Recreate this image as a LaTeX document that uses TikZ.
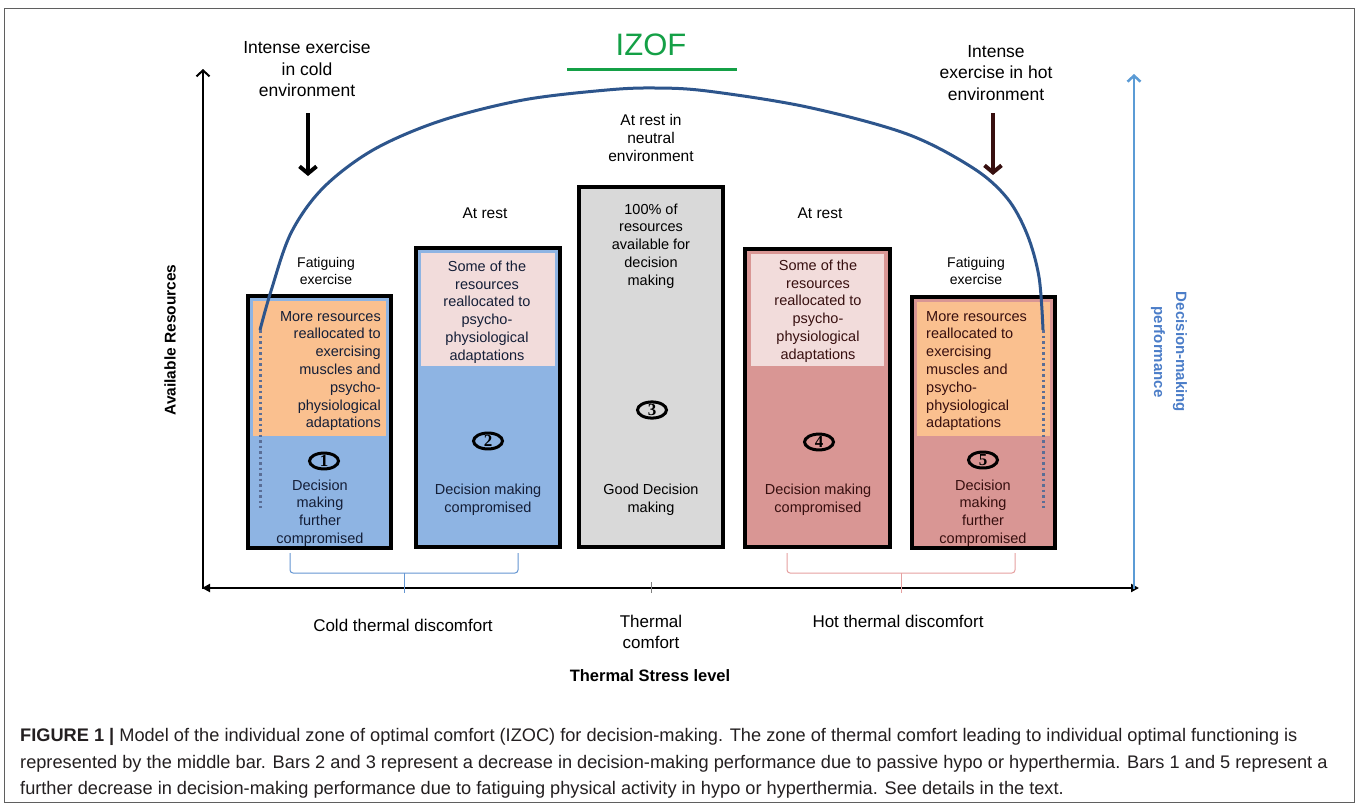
\documentclass[tikz,border=0pt]{standalone}
\usepackage{fontspec}
\setmainfont{Liberation Sans}
\newfontfamily\digitfont{Liberation Serif}
\usetikzlibrary{arrows.meta,shapes.geometric}
\definecolor{cblue}{RGB}{142,180,227}
\definecolor{corange}{RGB}{250,192,143}
\definecolor{cpink}{RGB}{242,220,219}
\definecolor{cred}{RGB}{217,150,148}
\definecolor{cgrey}{RGB}{217,217,217}
\definecolor{curve}{RGB}{45,85,140}
\definecolor{dotc}{RGB}{90,110,150}
\definecolor{izof}{RGB}{20,160,70}
\definecolor{axblue}{RGB}{91,155,213}
\definecolor{perfblue}{RGB}{75,125,200}
\definecolor{bluetxt}{RGB}{20,30,55}
\definecolor{redtxt}{RGB}{55,15,15}
\definecolor{captxt}{RGB}{35,31,32}
\definecolor{framec}{RGB}{95,95,95}
\definecolor{bracepink}{RGB}{230,160,160}
\definecolor{braceblue}{RGB}{100,150,210}
\tikzset{
  barline/.style={draw=black, line width=3.5pt},
  boxtxt/.style={inner sep=0pt, font=\fontsize{14.5}{17.8}\selectfont},
  toptxt/.style={inner sep=0pt, align=center, font=\fontsize{17.5}{21.5}\selectfont},
  labtxt/.style={inner sep=0pt, align=center, font=\fontsize{15.5}{17.8}\selectfont},
  smalltxt/.style={inner sep=0pt, align=center, font=\fontsize{14}{17.7}\selectfont},
  bottxt/.style={inner sep=0pt, align=center, font=\fontsize{17}{21}\selectfont},
  numell/.style={draw=black, ellipse, line width=3pt, minimum width=29pt, minimum height=15pt, inner sep=0pt, font=\digitfont\bfseries\fontsize{17}{17}\selectfont},
  captline/.style={anchor=west, inner sep=0pt, text=captxt, font=\fontsize{18.2}{20}\selectfont},
  axisline/.style={draw=black, line width=2pt},
  downarrow/.style={line width=4pt, -{Straight Barb[length=7pt,width=17pt]}},
}
\begin{document}
\begin{tikzpicture}[x=1pt,y=-1pt]
\useasboundingbox (0,0) rectangle (1357,806);
\fill[white] (0,0) rectangle (1357,806);
\draw[framec, line width=1pt] (4,8) rectangle (1354,802);

% bars
\fill[cblue] (248,296) rectangle (391,548);
\fill[corange] (253,301) rectangle (386,436);
\draw[barline] (248,296) rectangle (391,548);

\fill[cblue] (416,248) rectangle (560,547);
\fill[cpink] (421,253) rectangle (555,366);
\draw[barline] (416,248) rectangle (560,547);

\fill[cgrey] (579,187) rectangle (723,547);
\draw[barline] (579,187) rectangle (723,547);

\fill[cred] (745,249) rectangle (890,547);
\fill[cpink] (751,254) rectangle (884,366);
\draw[barline] (745,249) rectangle (890,547);

\fill[cred] (912,297) rectangle (1055,548);
\fill[corange] (917,302) rectangle (1050,436);
\draw[barline] (912,297) rectangle (1055,548);

% curve and dotted lines
\coordinate (cL) at (260,330);
\coordinate (cR) at (1043,330);
\coordinate (dL) at (260,508);
\coordinate (dR) at (1043,508);
\draw[curve, line width=3pt] plot[smooth, tension=0.55] coordinates {(260,330) (271,291) (291,233) (323,188) (373,150) (440,121) (523,100) (607,90) (655,88) (707,91) (807,107) (907,134) (973,168) (1007,198) (1027,234) (1039,277) (1043,330)};
\draw[dotc, line width=3pt, dash pattern=on 2.5pt off 3pt] (cL) -- (dL);
\draw[dotc, line width=3pt, dash pattern=on 2.5pt off 3pt] (cR) -- (dR);

% IZOF
\node[inner sep=0pt, text=izof, font=\fontsize{31}{31}\selectfont] (izof) at (651,45) {IZOF};
\coordinate (g0) at (567,69);
\coordinate (g1) at (737,69);
\draw[izof, line width=3pt] (g0) -- (g1);

% axes
\coordinate (la0) at (203,589);
\coordinate (la1) at (203,69);
\draw[axisline, -{Straight Barb[length=6pt,width=13pt]}] (la0) -- (la1);
\coordinate (ha0) at (202,588);
\coordinate (ha1) at (1139,588);
\draw[axisline, {Triangle[length=8pt,width=8pt]}-{Triangle[length=8pt,width=8pt]}] (ha0) -- (ha1);
\coordinate (ra0) at (1134,589);
\coordinate (ra1) at (1134,74);
\draw[axblue, line width=2.5pt, -{Straight Barb[length=6pt,width=13pt]}] (ra0) -- (ra1);

% down arrows
\coordinate (da0) at (308,113);
\coordinate (da1) at (308,176);
\draw[downarrow, black] (da0) -- (da1);
\coordinate (db0) at (993,113);
\coordinate (db1) at (993,175);
\draw[downarrow, redtxt] (db0) -- (db1);

% top labels
\node[toptxt] (intL) at (307,69) {Intense exercise\\in cold\\environment};
\node[toptxt] (intR) at (996,73) {Intense\\exercise in hot\\environment};
\node[labtxt] (neutral) at (651,138) {At rest in\\neutral\\environment};
\node[labtxt] (rest2) at (485,213) {At rest};
\node[labtxt] (rest4) at (820,213) {At rest};
\node[smalltxt] (fat1) at (326,271) {Fatiguing\\exercise};
\node[smalltxt] (fat5) at (976,271) {Fatiguing\\exercise};

% bar texts
\node[boxtxt, anchor=east, align=right, text=bluetxt] (t1a) at (381,371) {More resources\\reallocated to\\exercising\\muscles and\\psycho-\\physiological\\adaptations};
\node[numell] (n1) at (324,461) {1};
\node[boxtxt, align=center, text=bluetxt] (t1b) at (320,513) {Decision\\making\\further\\compromised};

\node[boxtxt, align=center, text=bluetxt] (t2a) at (487,312) {Some of the\\resources\\reallocated to\\psycho-\\physiological\\adaptations};
\node[numell] (n2) at (488,441) {2};
\node[boxtxt, align=center, text=bluetxt] (t2b) at (488,500) {Decision making\\compromised};

\node[boxtxt, align=center, text=black] (t3a) at (651,246) {100\% of\\resources\\available for\\decision\\making};
\node[numell] (n3) at (652,410) {3};
\node[boxtxt, align=center, text=black] (t3b) at (651,500) {Good Decision\\making};

\node[boxtxt, align=center, text=redtxt] (t4a) at (818,311) {Some of the\\resources\\reallocated to\\psycho-\\physiological\\adaptations};
\node[numell] (n4) at (819,442) {4};
\node[boxtxt, align=center, text=redtxt] (t4b) at (818,500) {Decision making\\compromised};

\node[boxtxt, anchor=west, align=left, text=redtxt] (t5a) at (926,371) {More resources\\reallocated to\\exercising\\muscles and\\psycho-\\physiological\\adaptations};
\node[numell] (n5) at (983,460) {5};
\node[boxtxt, align=center, text=redtxt] (t5b) at (983,513) {Decision\\making\\further\\compromised};

% axis labels
\node[rotate=90, inner sep=0pt, font=\bfseries\fontsize{15.5}{18}\selectfont] (ylab) at (170,340) {Available Resources};
\node[rotate=-90, inner sep=0pt, align=center, text=perfblue, font=\bfseries\fontsize{15}{22}\selectfont] (dmlab) at (1169,352) {Decision-making\\performance};

% braces
\draw[braceblue, line width=1pt, rounded corners=3pt] (290,553) -- (290,573) -- (518,573) -- (518,553);
\coordinate (bl0) at (404,573);
\coordinate (bl1) at (404,593);
\draw[braceblue, line width=1pt] (bl0) -- (bl1);
\draw[bracepink, line width=1pt, rounded corners=3pt] (787,553) -- (787,573) -- (1015,573) -- (1015,553);
\coordinate (br0) at (901,573);
\coordinate (br1) at (901,593);
\draw[bracepink, line width=1pt] (br0) -- (br1);
\coordinate (mt0) at (651,582);
\coordinate (mt1) at (651,593);
\draw[gray, line width=0.8pt] (mt0) -- (mt1);

% bottom labels
\node[bottxt] (cold) at (403,625) {Cold thermal discomfort};
\node[bottxt] (comf) at (651,632) {Thermal\\comfort};
\node[bottxt] (hot) at (898,621) {Hot thermal discomfort};
\node[inner sep=0pt, font=\bfseries\fontsize{16.5}{18}\selectfont] (tsl) at (650,676) {Thermal Stress level};

% caption
\node[captline] (cap1) at (20,737) {\textbf{FIGURE 1 |} Model of the individual zone of optimal comfort (IZOC) for decision-making. The zone of thermal comfort leading to individual optimal functioning is};
\node[captline] (cap2) at (20,764) {represented by the middle bar. Bars 2 and 3 represent a decrease in decision-making performance due to passive hypo or hyperthermia. Bars 1 and 5 represent a};
\node[captline] (cap3) at (20,790) {further decrease in decision-making performance due to fatiguing physical activity in hypo or hyperthermia. See details in the text.};
\end{tikzpicture}
\end{document}
